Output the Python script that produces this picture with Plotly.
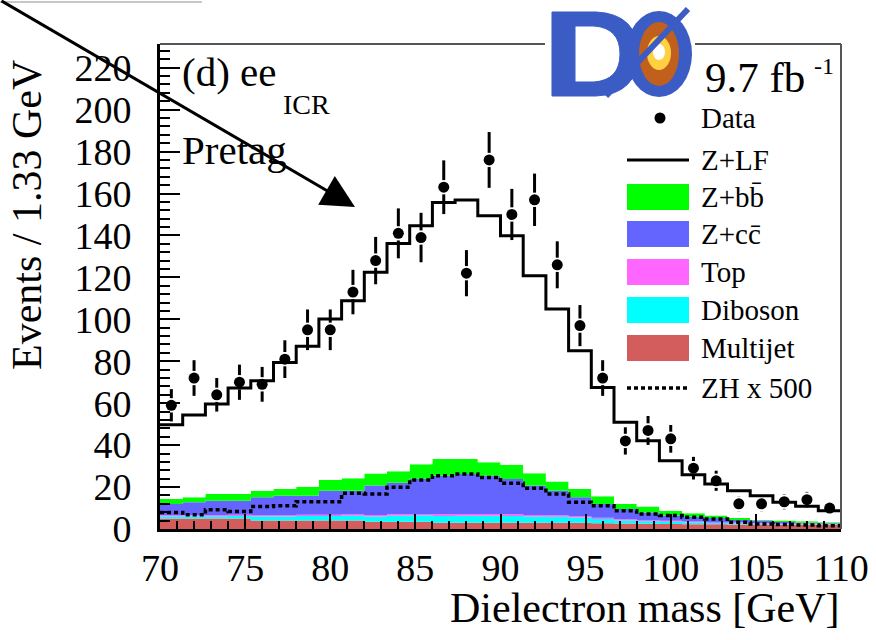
import plotly.graph_objects as go

# ---------------- data ----------------
bin_lo, bin_hi, n_bins = 70.0, 110.0, 30
edges = [bin_lo + i * (bin_hi - bin_lo) / n_bins for i in range(n_bins + 1)]
centers = [(edges[i] + edges[i + 1]) / 2 for i in range(n_bins)]

data_counts = [59, 72, 64, 70, 69, 81, 95, 95, 113, 128, 141, 139, 163, 122, 176,
               150, 157, 126, 97, 72, 42, 47, 43, 29, 23, 12, 12, 13, 14, 10]
data_err = [7.7, 8.5, 8.0, 8.4, 8.3, 9.0, 9.7, 9.7, 10.6, 11.3, 11.9, 11.8, 12.8, 11.0, 13.3,
            12.2, 12.5, 11.2, 9.8, 8.5, 6.5, 6.9, 6.6, 5.4, 4.8, 3.5, 3.5, 3.6, 3.7, 3.2]

multijet = [5.0, 5.0, 5.0, 5.0, 4.0, 4.0, 4.0, 4.0, 4.0, 3.5, 3.5, 3.5, 3.0, 3.0, 3.0,
            3.0, 3.0, 3.0, 3.0, 2.8, 2.6, 2.5, 2.4, 2.3, 2.3, 2.2, 2.1, 2.0, 2.0, 1.9]
diboson = [1.0, 1.0, 1.0, 1.2, 2.0, 2.0, 2.2, 2.2, 2.3, 2.5, 2.8, 3.0, 3.2, 3.3, 3.3,
           3.2, 3.0, 2.8, 2.5, 2.0, 1.5, 1.2, 1.0, 0.8, 0.6, 0.5, 0.4, 0.3, 0.3, 0.2]
top = [0.6, 0.6, 0.6, 0.6, 0.6, 0.6, 0.6, 0.6, 0.6, 0.7, 0.7, 0.7, 0.8, 0.8, 0.8,
       0.8, 0.7, 0.7, 0.7, 0.6, 0.6, 0.5, 0.5, 0.5, 0.4, 0.4, 0.3, 0.3, 0.3, 0.3]
zcc = [5.3, 6.1, 6.9, 6.7, 8.5, 9.3, 9.1, 11.5, 11.4, 14.0, 15.0, 16.8, 18.4, 19.1, 18.3,
       16.8, 14.0, 11.8, 8.9, 6.5, 4.8, 3.7, 2.5, 2.3, 1.9, 1.2, 1.2, 0.7, 0.4, 0.3]
zbb = [2.4, 2.4, 3.2, 3.2, 3.2, 3.2, 4.3, 5.1, 5.9, 5.8, 5.5, 6.9, 8.0, 7.2, 6.4,
       6.9, 5.9, 4.4, 4.0, 3.7, 2.4, 2.8, 2.3, 1.6, 1.2, 0.9, 0.3, 0.7, 0.7, 0.5]
zlf = [35.4, 39.3, 42.9, 50.5, 52.4, 60.3, 66.9, 76.7, 84.7, 95.9, 108.7, 113.7, 122.3, 123.5, 117.6,
       109.2, 94.2, 82.2, 65.9, 51.9, 39.0, 31.4, 23.9, 18.4, 15.1, 13.1, 11.6, 8.7, 7.1, 5.5]
zh500 = [7.9, 6.8, 9.2, 8.4, 10.7, 11.1, 13.0, 13.0, 17.0, 16.7, 19.9, 23.4, 25.4, 26.2, 24.6,
         21.8, 19.4, 16.7, 12.7, 11.1, 8.7, 7.2, 6.4, 5.6, 4.8, 3.2, 2.4, 2.1, 1.9, 1.6]

stack_names = ["Multijet", "Diboson", "Top", "Z+cc", "Z+bb", "Z+LF"]
stack_vals = [multijet, diboson, top, zcc, zbb, zlf]
stack_colors = ["#d35c5c", "#00ffff", "#ff66ff", "#6464ff", "#00ff00", "#ffffff"]

# ---------------- figure ----------------
fig = go.Figure()
SERIF = "Liberation Serif, Times New Roman, serif"

cum = [0.0] * n_bins
for i, (name, vals, col) in enumerate(zip(stack_names, stack_vals, stack_colors)):
    cum = [a + b for a, b in zip(cum, vals)]
    is_top = (name == "Z+LF")
    fig.add_trace(go.Scatter(
        x=edges, y=cum + [cum[-1]], mode="lines", line_shape="hv",
        fill="tozeroy" if i == 0 else "tonexty", fillcolor=col,
        line=dict(color="black" if is_top else col, width=3 if is_top else 0),
        name=name, showlegend=False, hoverinfo="skip"))

fig.add_trace(go.Scatter(
    x=edges, y=zh500 + [zh500[-1]], mode="lines", line_shape="hv",
    line=dict(color="black", width=3.5, dash="4px,3px"), showlegend=False, hoverinfo="skip"))

gap = 3.4
ex, ey = [], []
for c, v, e in zip(centers, data_counts, data_err):
    if e > gap:
        ex += [c, c, None, c, c, None]
        ey += [v + gap, v + e, None, v - gap, v - e, None]
fig.add_trace(go.Scatter(x=ex, y=ey, mode="lines", line=dict(color="black", width=3),
                         showlegend=False, hoverinfo="skip"))
fig.add_trace(go.Scatter(x=centers, y=data_counts, mode="markers",
                         marker=dict(color="black", size=11), showlegend=False, hoverinfo="skip"))

L, R, T, B = 160, 841, 44, 529
def PX(x):
    return (x - L) / (R - L)
def PY(y):
    return (B - y) / (B - T)

shapes = []
# top and right frame
shapes.append(dict(type="line", xref="paper", yref="paper", x0=0, x1=1, y0=1, y1=1,
                   line=dict(color="#555555", width=2)))
shapes.append(dict(type="line", xref="paper", yref="paper", x0=1, x1=1, y0=0, y1=1,
                   line=dict(color="#555555", width=2)))
# grey line at very top-left
shapes.append(dict(type="line", xref="paper", yref="paper", x0=PX(0), x1=PX(202), y0=PY(2), y1=PY(2),
                   line=dict(color="#c8c8c8", width=2)))

# legend symbols
rows = [118, 160, 197, 234, 272, 310, 348, 388]
box_rows = {"Z+bb": rows[2], "Z+cc": rows[3], "Top": rows[4], "Diboson": rows[5], "Multijet": rows[6]}
for name, col in zip(stack_names, stack_colors):
    if name in box_rows:
        yc = box_rows[name]
        shapes.append(dict(type="rect", xref="paper", yref="paper", x0=PX(627), x1=PX(689),
                           y0=PY(yc + 13), y1=PY(yc - 13), fillcolor=col, line=dict(width=0)))
shapes.append(dict(type="line", xref="paper", yref="paper", x0=PX(627), x1=PX(689),
                   y0=PY(rows[1]), y1=PY(rows[1]), line=dict(color="black", width=3)))
shapes.append(dict(type="line", xref="paper", yref="paper", x0=PX(627), x1=PX(689),
                   y0=PY(rows[7]), y1=PY(rows[7]), line=dict(color="black", width=3.5, dash="4px,3px")))
shapes.append(dict(type="circle", xref="paper", yref="paper", x0=PX(654.5), x1=PX(665.5),
                   y0=PY(rows[0] + 5.5), y1=PY(rows[0] - 5.5), fillcolor="black", line=dict(width=0)))

# D0 logo
shapes.append(dict(type="rect", xref="paper", yref="paper", x0=PX(545), x1=PX(695),
                   y0=PY(48), y1=PY(38), fillcolor="white", line=dict(width=0), layer="above"))
BLUE = "#3b5cc4"
def P(x, y):
    return f"{PX(x):.5f},{PY(y):.5f}"
d_path = (f"M{P(552,12)} L{P(596,12)} Q{P(638,14)} {P(638,54)} Q{P(638,94)} {P(596,96)} L{P(552,96)} Z "
          f"M{P(575,26)} L{P(594,26)} Q{P(620,28)} {P(620,54)} Q{P(620,80)} {P(594,82)} L{P(575,82)} Z")
shapes.append(dict(type="path", xref="paper", yref="paper", path=d_path, fillcolor=BLUE,
                   fillrule="evenodd", line=dict(color=BLUE, width=1), layer="above"))
shapes.append(dict(type="circle", xref="paper", yref="paper", x0=PX(626), x1=PX(692),
                   y0=PY(97), y1=PY(11), fillcolor=BLUE, line=dict(width=0), layer="above"))
shapes.append(dict(type="circle", xref="paper", yref="paper", x0=PX(639), x1=PX(679),
                   y0=PY(86), y1=PY(22), fillcolor="#c0601c", line=dict(width=0), layer="above"))
shapes.append(dict(type="circle", xref="paper", yref="paper", x0=PX(647), x1=PX(671),
                   y0=PY(70), y1=PY(36), fillcolor="#ffd040", line=dict(width=0), layer="above"))
shapes.append(dict(type="circle", xref="paper", yref="paper", x0=PX(653), x1=PX(665),
                   y0=PY(60), y1=PY(44), fillcolor="#ffffff", line=dict(width=0), layer="above"))
shapes.append(dict(type="line", xref="paper", yref="paper", x0=PX(606), x1=PX(688),
                   y0=PY(96), y1=PY(9), line=dict(color=BLUE, width=6), layer="above"))

annotations = []
def txt(s, x, y, size, xanchor="left", **kw):
    annotations.append(dict(text=s, xref="paper", yref="paper", x=PX(x), y=PY(y),
                            xanchor=xanchor, yanchor="middle", showarrow=False,
                            font=dict(family=SERIF, size=size, color="black"), **kw))

txt("(d) ee", 180, 72, 41)
txt("ICR", 281, 104, 28)
txt("Pretag", 180, 150, 41)
txt("9.7 fb", 703, 77, 43)
txt("-1", 812, 66, 24)
legend_labels = ["Data", "Z+LF", "Z+b\u0062\u0304", "Z+c\u0063\u0304", "Top", "Diboson", "Multijet", "ZH x 500"]
for lab, yc in zip(legend_labels, rows):
    txt(lab, 699, yc, 29)
txt("Dielectron mass [GeV]", 842, 608, 42, xanchor="right")
annotations.append(dict(text="Events / 1.33 GeV", xref="paper", yref="paper", x=PX(27), y=PY(215),
                        xanchor="center", yanchor="middle", showarrow=False, textangle=-90,
                        font=dict(family=SERIF, size=42, color="black")))
# arrow
annotations.append(dict(text="", xref="paper", yref="paper", x=PX(355), y=PY(207),
                        ax=-370, ay=-229, showarrow=True, arrowhead=2, arrowsize=2.2,
                        arrowwidth=3, arrowcolor="black", standoff=0))

fig.update_layout(
    template="none",
    width=876, height=640,
    margin=dict(l=L, r=876 - R, t=T, b=640 - B, pad=0, autoexpand=False),
    paper_bgcolor="white", plot_bgcolor="white",
    shapes=shapes, annotations=annotations,
    showlegend=False, hovermode=False,
    xaxis=dict(range=[bin_lo, bin_hi], dtick=5, tick0=70, ticks="inside", ticklen=15, tickwidth=2,
               tickcolor="black", showline=True, linecolor="black", linewidth=3, mirror=False,
               showgrid=False, zeroline=False, ticklabelstandoff=3, automargin=False,
               tickfont=dict(family=SERIF, size=38, color="black"),
               minor=dict(ticks="inside", dtick=1, ticklen=8, tickwidth=2, tickcolor="black", showgrid=False)),
    yaxis=dict(range=[0, 231.3], dtick=20, tick0=0, ticks="inside", ticklen=20, tickwidth=2,
               tickcolor="black", showline=True, linecolor="black", linewidth=3, mirror=False,
               showgrid=False, zeroline=False, ticklabelstandoff=18, automargin=False,
               tickfont=dict(family=SERIF, size=38, color="black"),
               minor=dict(ticks="inside", dtick=4, ticklen=10, tickwidth=2, tickcolor="black", showgrid=False)),
)

fig.write_html("out.html", config={"displayModeBar": False, "staticPlot": True},
               post_script="document.body.style.margin='0';document.body.style.padding='0';"
                           "document.documentElement.style.overflow='hidden';")
